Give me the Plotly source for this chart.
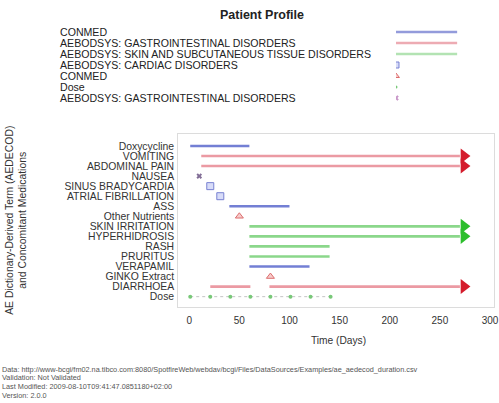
import plotly.graph_objects as go

# ---------------- data ----------------
rows = ["Doxycycline", "VOMITING", "ABDOMINAL PAIN", "NAUSEA", "SINUS BRADYCARDIA",
        "ATRIAL FIBRILLATION", "ASS", "Other Nutrients", "SKIN IRRITATION",
        "HYPERHIDROSIS", "RASH", "PRURITUS", "VERAPAMIL", "GINKO Extract",
        "DIARRHOEA", "Dose"]

# duration segments: (row, start, end)
conmed_rows = ["Doxycycline", "ASS", "VERAPAMIL"]
conmed_start = [1, 40, 60]
conmed_end = [60, 100, 120]

gi_rows = ["VOMITING", "ABDOMINAL PAIN", "DIARRHOEA", "DIARRHOEA"]
gi_start = [12, 12, 21, 80]
gi_end = [270, 270, 61, 270]

skin_rows = ["SKIN IRRITATION", "HYPERHIDROSIS", "RASH", "PRURITUS"]
skin_start = [60, 60, 60, 60]
skin_end = [270, 270, 140, 140]

# ongoing arrows
arrow_red_rows = ["VOMITING", "ABDOMINAL PAIN", "DIARRHOEA"]
arrow_green_rows = ["SKIN IRRITATION", "HYPERHIDROSIS"]
arrow_day = 274

# single-day events
cardiac_rows = ["SINUS BRADYCARDIA", "ATRIAL FIBRILLATION"]
cardiac_days = [21, 31]
conmed_pt_rows = ["Other Nutrients", "GINKO Extract"]
conmed_pt_days = [50, 81]
gi_pt_rows = ["NAUSEA"]
gi_pt_days = [10]

dose_days = [1, 21, 41, 61, 81, 101, 121, 141]

x_ticks = [0, 50, 100, 150, 200, 250, 300]

legend_labels = ["CONMED",
                 "AEBODSYS: GASTROINTESTINAL DISORDERS",
                 "AEBODSYS: SKIN AND SUBCUTANEOUS TISSUE DISORDERS",
                 "AEBODSYS: CARDIAC DISORDERS",
                 "CONMED",
                 "Dose",
                 "AEBODSYS: GASTROINTESTINAL DISORDERS"]

footer_lines = [
    "Data: http://www-bcgi/fm02.na.tibco.com:8080/SpotfireWeb/webdav/bcgi/Files/DataSources/Examples/ae_aedecod_duration.csv",
    "Validation: Not Validated",
    "Last Modified: 2009-08-10T09:41:47.0851180+02:00",
    "Version: 2.0.0",
]

# ---------------- styles ----------------
W, H = 499, 403
FONT = "Liberation Sans, Arial, sans-serif"
BLUE = "rgba(90,105,205,0.85)"
RED = "rgba(228,120,132,0.75)"
GREEN = "rgba(110,205,110,0.8)"
ARROW_RED = "rgb(212,28,44)"
ARROW_GREEN = "rgb(44,190,44)"


def px_x(p):
    return p / W


def px_y(p):
    return 1 - p / H


fig = go.Figure()


def seg_trace(rws, st, en, color):
    xs, ys = [], []
    for r, s, e in zip(rws, st, en):
        xs += [s, e, None]
        ys += [r, r, None]
    fig.add_trace(go.Scatter(x=xs, y=ys, mode="lines",
                             line=dict(color=color, width=2.6),
                             hoverinfo="skip", showlegend=False))


seg_trace(conmed_rows, conmed_start, conmed_end, BLUE)
seg_trace(gi_rows, gi_start, gi_end, RED)
seg_trace(skin_rows, skin_start, skin_end, GREEN)

# dose
fig.add_trace(go.Scatter(x=dose_days, y=["Dose"] * len(dose_days), mode="lines+markers",
                         line=dict(color="rgba(190,190,190,0.9)", width=1, dash="dot"),
                         marker=dict(symbol="circle", size=4, color="rgb(120,200,120)"),
                         showlegend=False))

# point events
fig.add_trace(go.Scatter(x=cardiac_days, y=cardiac_rows, mode="markers",
                         marker=dict(symbol="square", size=7, color="rgba(200,205,245,0.7)",
                                     line=dict(color="rgb(120,130,210)", width=1)),
                         showlegend=False))
fig.add_trace(go.Scatter(x=conmed_pt_days, y=conmed_pt_rows, mode="markers",
                         marker=dict(symbol="triangle-up", size=7, color="rgba(245,190,190,0.8)",
                                     line=dict(color="rgb(220,110,110)", width=1)),
                         showlegend=False))
fig.add_trace(go.Scatter(x=gi_pt_days, y=gi_pt_rows, mode="markers",
                         marker=dict(symbol="x", size=5, color="rgb(130,110,150)"),
                         showlegend=False))

# arrows
fig.add_trace(go.Scatter(x=[arrow_day] * len(arrow_red_rows), y=arrow_red_rows, mode="markers",
                         marker=dict(symbol="triangle-right", size=13, color=ARROW_RED),
                         showlegend=False))
fig.add_trace(go.Scatter(x=[arrow_day] * len(arrow_green_rows), y=arrow_green_rows, mode="markers",
                         marker=dict(symbol="triangle-right", size=13, color=ARROW_GREEN),
                         showlegend=False))

# ---------------- legend (own axis) ----------------
leg_line_colors = ["rgba(120,130,210,0.8)", "rgba(232,150,160,0.8)", "rgba(160,220,160,0.8)"]
for i in range(3):
    fig.add_trace(go.Scatter(x=[0, 1], y=[i, i], mode="lines", xaxis="x2", yaxis="y2",
                             line=dict(color=leg_line_colors[i], width=2.5),
                             showlegend=False, hoverinfo="skip"))
fig.add_trace(go.Scatter(x=[0], y=[3], mode="markers", xaxis="x2", yaxis="y2",
                         marker=dict(symbol="square", size=6, color="rgba(200,205,245,0.7)",
                                     line=dict(color="rgb(120,130,210)", width=1)),
                         showlegend=False, hoverinfo="skip"))
fig.add_trace(go.Scatter(x=[0], y=[4], mode="markers", xaxis="x2", yaxis="y2",
                         marker=dict(symbol="triangle-up", size=6, color="rgba(245,190,190,0.8)",
                                     line=dict(color="rgb(220,110,110)", width=1)),
                         showlegend=False, hoverinfo="skip"))
fig.add_trace(go.Scatter(x=[0], y=[5], mode="markers", xaxis="x2", yaxis="y2",
                         marker=dict(symbol="circle", size=3, color="rgb(120,200,120)"),
                         showlegend=False, hoverinfo="skip"))
fig.add_trace(go.Scatter(x=[0], y=[6], mode="markers", xaxis="x2", yaxis="y2",
                         marker=dict(symbol="x", size=5, color="rgb(200,150,200)"),
                         showlegend=False, hoverinfo="skip"))

annotations = []
for i, lab in enumerate(legend_labels):
    annotations.append(dict(text=lab, x=px_x(59), xref="paper", y=i, yref="y2",
                            xanchor="left", yanchor="middle", showarrow=False,
                            font=dict(family=FONT, size=10.6, color="#222")))

# y-axis title (two lines)
annotations.append(dict(text="AE Dictionary-Derived Term (AEDECOD)<br>and Concomitant Medications",
                        x=px_x(16), xref="paper", y=px_y(220), yref="paper",
                        textangle=-90, xanchor="center", yanchor="middle", showarrow=False,
                        font=dict(family=FONT, size=10.4, color="#333")))
# x-axis title
annotations.append(dict(text="Time (Days)", x=px_x(342), xref="paper", y=px_y(340), yref="paper",
                        xanchor="center", yanchor="middle", showarrow=False,
                        font=dict(family=FONT, size=10.2, color="#333")))
# footer
for i, line in enumerate(footer_lines):
    annotations.append(dict(text=line, x=0, xref="paper", y=px_y(369 + 8.8 * i), yref="paper",
                            xanchor="left", yanchor="middle", showarrow=False,
                            font=dict(family=FONT, size=7.3, color="#555")))

fig.update_layout(
    width=W, height=H,
    margin=dict(l=0, r=0, t=0, b=0),
    paper_bgcolor="white", plot_bgcolor="white",
    title=dict(text="<b>Patient Profile</b>", x=px_x(262), xanchor="center",
               y=px_y(15), yanchor="middle", font=dict(family=FONT, size=12.5, color="#222")),
    font=dict(family=FONT, size=10, color="#333"),
    xaxis=dict(domain=[px_x(180), 1], range=[-11, 304], showgrid=False, zeroline=False,
               tickvals=x_ticks, ticklabeloverflow="allow",
               ticks="outside", ticklen=4, tickcolor="rgba(0,0,0,0)",
               showline=True, mirror=True, linecolor="#dcdcdc", linewidth=1,
               tickfont=dict(family=FONT, size=10, color="#333")),
    yaxis=dict(domain=[px_y(307), px_y(134)], type="category",
               categoryorder="array", categoryarray=rows[::-1],
               tickmode="array", tickvals=rows, ticktext=rows,
               range=[-1.03, 16.19], showgrid=False, zeroline=False,
               ticks="outside", ticklen=1, tickcolor="rgba(0,0,0,0)",
               showline=True, mirror=True, linecolor="#dcdcdc", linewidth=1,
               tickfont=dict(family=FONT, size=10.4, color="#333")),
    xaxis2=dict(domain=[px_x(400), px_x(462)], range=[0, 1], visible=False, anchor="y2"),
    yaxis2=dict(domain=[px_y(103.5), px_y(26.5)], range=[6.5, -0.5], visible=False, anchor="x2"),
    annotations=annotations,
    showlegend=False,
)

fig.write_html("out.html", config={"displayModeBar": False},
               post_script="document.body.style.margin='0';document.body.style.overflow='hidden';")
